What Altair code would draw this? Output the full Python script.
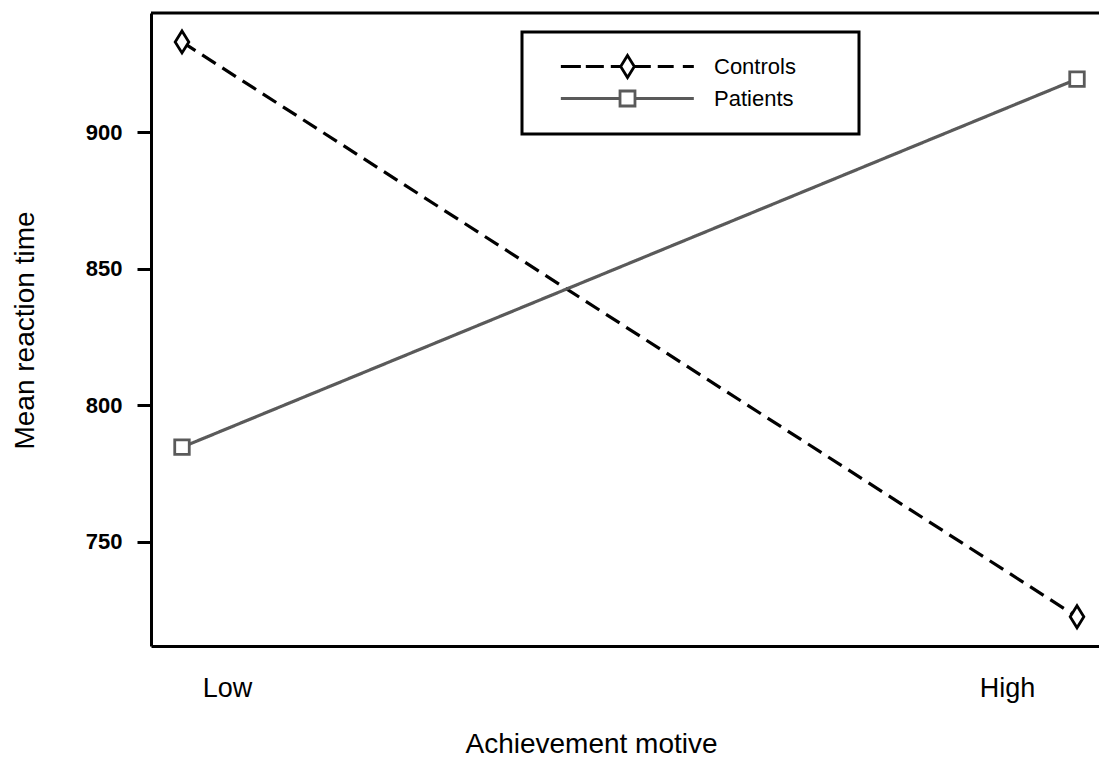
import altair as alt
import pandas as pd

# ---- data ----
groups = ["Controls", "Controls", "Patients", "Patients"]
motive = ["Low", "High", "Low", "High"]
reaction_time = [933.0, 722.5, 784.6, 919.4]

series = ["Controls", "Patients"]
levels = ["Low", "High"]
y_ticks = [750, 800, 850, 900]

df = pd.DataFrame({"group": groups, "motive": motive, "rt": reaction_time})

# ---- styling ----
FONT = "Liberation Sans"
W, H = 948, 633
line_colors = ["#000000", "#5a5a5a"]
dashes = [[16, 8], [1, 0]]
diamond = "M0,-1L0.62,0L0,1L-0.62,0Z"
square = "M-0.66,-0.66L0.66,-0.66L0.66,0.66L-0.66,0.66Z"
marker_shapes = [diamond, square]
# legend keys: line + marker; the trailing move-to only widens the legend box
legend_shapes = [
    "M-6.06,0L-4.24,0M-3.79,0L-2.15,0M-1.52,0L-0.62,0M0.62,0L2.12,0M2.75,0L4.2,0M5.03,0L6.03,0"
    + diamond + "M18.45,0",
    "M-6.06,0L-0.68,0M0.68,0L6.03,0M-0.68,-0.68L0.68,-0.68L0.68,0.68L-0.68,0.68ZM18.45,0",
]

x_enc = alt.X(
    "motive:N",
    sort=levels,
    scale=alt.Scale(type="point", domain=levels, padding=0.0296, align=0.585),
    axis=alt.Axis(
        title="Achievement motive", ticks=False, tickSize=0, grid=False,
        domainColor="black", domainWidth=3,
        labelFont=FONT, labelFontSize=27, labelColor="black", labelAngle=0,
        labelBaseline="alphabetic", labelPadding=50,
        labelOffset={"condition": {"test": "datum.value == 'Low'", "value": 45}, "value": -70},
        titleFont=FONT, titleFontSize=28, titleFontWeight="normal", titleColor="black",
        titleX=440, titleY=106, titleAlign="center", titleBaseline="alphabetic",
    ),
)

y_enc = alt.Y(
    "rt:Q",
    scale=alt.Scale(domain=[711.8, 943.6], nice=False, zero=False),
    axis=alt.Axis(
        title="Mean reaction time", values=y_ticks, grid=False,
        domainColor="black", domainWidth=3,
        tickColor="black", tickWidth=3, tickSize=14,
        labelPadding=15, labelFont=FONT, labelFontSize=22, labelFontWeight="bold",
        labelColor="black",
        titleFont=FONT, titleFontSize=28, titleFontWeight="normal", titleColor="black",
        titleAngle=270, titleX=-118, titleY=317, titleAlign="center",
        titleBaseline="alphabetic",
    ),
)

frame_top = alt.Chart(df).transform_aggregate(n="count()").mark_rule(
    color="black", strokeWidth=3
).encode(x=alt.value(0), x2=alt.value(W), y=alt.value(0))

lines = alt.Chart(df).mark_line(strokeWidth=3.2).encode(
    x=x_enc, y=y_enc,
    color=alt.Color("group:N", scale=alt.Scale(domain=series, range=line_colors), legend=None),
    strokeDash=alt.StrokeDash("group:N", scale=alt.Scale(domain=series, range=dashes), legend=None),
)

points = alt.Chart(df).mark_point(
    filled=False, fill="white", strokeWidth=2.8, size=484, opacity=1
).encode(
    x=x_enc, y=y_enc,
    color=alt.Color("group:N", scale=alt.Scale(domain=series, range=line_colors), legend=None),
    shape=alt.Shape("group:N", scale=alt.Scale(domain=series, range=marker_shapes), legend=None),
)

legend_props = dict(
    title=None, orient="none", legendX=371, legendY=19,
    padding=22, rowPadding=1, symbolOffset=71, labelOffset=74,
    symbolSize=484, symbolStrokeWidth=2.8, symbolOpacity=1,
    labelFont=FONT, labelFontSize=22, labelColor="black",
    strokeColor="black", fillColor="white",
)

legend_layer = alt.Chart(df).transform_filter("false").mark_point(
    filled=False, fill="white", strokeWidth=2.8, size=484, opacity=1
).encode(
    x=x_enc, y=y_enc,
    color=alt.Color("group:N", scale=alt.Scale(domain=series, range=line_colors),
                    legend=alt.Legend(**legend_props)),
    shape=alt.Shape("group:N", scale=alt.Scale(domain=series, range=legend_shapes),
                    legend=alt.Legend(**legend_props)),
)

chart = (
    alt.layer(frame_top, lines, points, legend_layer)
    .resolve_scale(color="independent", shape="independent")
    .properties(
        width=W, height=H,
        autosize=alt.AutoSizeParams(type="none"),
        padding={"left": 151, "top": 13, "right": 0, "bottom": 114},
        background="white",
    )
    .configure_view(stroke=None)
    .configure_legend(strokeWidth=3)
)

chart.save("out.html", embed_options={"renderer": "svg", "actions": False})
